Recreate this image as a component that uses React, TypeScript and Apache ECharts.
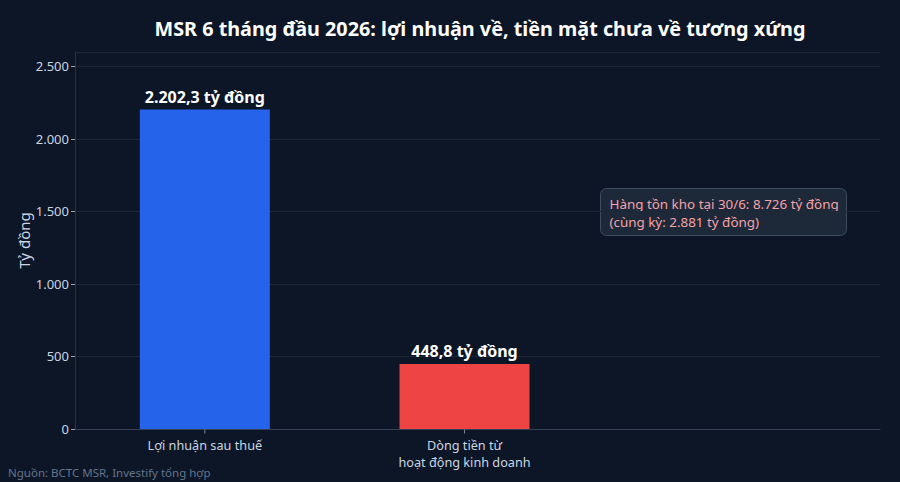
import React, { useEffect, useRef } from "react";
import * as echarts from "echarts";

const categories = ["Lợi nhuận sau thuế", "Dòng tiền từ\nhoạt động kinh doanh"];
const categoryPositions = [0, 1];
const values = [2202.3, 448.8];
const barColors = ["#2563eb", "#ef4444"];
const titleText = "MSR 6 tháng đầu 2026: lợi nhuận về, tiền mặt chưa về tương xứng";
const yAxisName = "Tỷ đồng";
const noteLines = ["Hàng tồn kho tại 30/6: 8.726 tỷ đồng", "(cùng kỳ: 2.881 tỷ đồng)"];
const sourceText = "Nguồn: BCTC MSR, Investify tổng hợp";

const FONT = "'Noto Sans', 'DejaVu Sans', sans-serif";

function fmtThousands(n: number): string {
  const s = Math.round(n).toString();
  return s.replace(/\B(?=(\d{3})+(?!\d))/g, ".");
}
function fmtValue(v: number): string {
  const fixed = v.toFixed(1);
  const [i, d] = fixed.split(".");
  return fmtThousands(Number(i)) + "," + d;
}

export default function App() {
  const ref = useRef<HTMLDivElement>(null);
  useEffect(() => {
    if (!ref.current) return;
    const chart = echarts.init(ref.current, undefined, { renderer: "svg" });
    const maxV = Math.max(...values);
    chart.setOption({
      animation: false,
      backgroundColor: "#0c1627",
      textStyle: { fontFamily: FONT },
      title: {
        text: titleText,
        left: 475,
        top: 13,
        textAlign: "center",
        textStyle: { color: "#ffffff", fontSize: 19.8, fontWeight: "bold", fontFamily: FONT },
      },
      grid: { left: 75, right: 20, top: 52, bottom: 53, containLabel: false },
      xAxis: {
        type: "value",
        min: -0.5,
        max: 2.6,
        splitLine: { show: false },
        axisLine: { show: true, onZero: false, lineStyle: { color: "#334155", width: 1 } },
        axisTick: { show: false },
        axisLabel: {
          customValues: categoryPositions,
          color: "#cbd5e1",
          fontSize: 12.7,
          margin: 7,
          lineHeight: 17,
          formatter: (v: number) => categories[Math.round(v)] ?? "",
        },
      },
      yAxis: {
        type: "value",
        min: 0,
        max: maxV * 1.18,
        interval: 500,
        name: yAxisName,
        nameLocation: "middle",
        nameGap: 44,
        nameMoveOverlap: false,
        nameTextStyle: { color: "#cbd5e1", fontSize: 15 },
        axisLine: { show: true, onZero: false, lineStyle: { color: "#263244" } },
        axisTick: { show: true, length: 4, lineStyle: { color: "#94a3b8" } },
        axisLabel: {
          color: "#cbd5e1",
          fontSize: 13,
          margin: 6,
          showMaxLabel: false,
          formatter: (v: number) => fmtThousands(v),
        },
        splitLine: { show: true, lineStyle: { color: "#1c2738", width: 1 } },
      },
      series: [
        {
          type: "bar",
          barWidth: 130,
          data: values.map((v, i) => ({
            value: [categoryPositions[i], v],
            itemStyle: { color: barColors[i] },
          })),
          label: {
            show: true,
            position: "top",
            distance: 5,
            color: "#ffffff",
            fontSize: 16,
            fontWeight: "bold",
            formatter: (p: any) => fmtValue(p.value[1]) + " tỷ đồng",
          },
        },
        {
          type: "scatter",
          symbol: "rect",
          symbolSize: [1, 4],
          symbolOffset: [0, 2.5],
          clip: false,
          silent: true,
          itemStyle: { color: "#94a3b8" },
          data: categoryPositions.map((x) => [x, 0]),
          z: 1,
        },
      ],
      graphic: [
        {
          type: "group",
          left: 600,
          top: 188,
          children: [
            {
              type: "rect",
              shape: { x: 0, y: 0, width: 246, height: 47, r: 6 },
              style: { fill: "#1d2838", stroke: "#3f4d61", lineWidth: 1 },
            },
            {
              type: "text",
              x: 9,
              y: 6,
              style: {
                text: noteLines.join("\n"),
                fill: "#f5a3a8",
                fontSize: 13.4,
                lineHeight: 18,
                fontFamily: FONT,
              },
            },
          ],
        },
        {
          type: "text",
          left: 8,
          top: 466,
          style: { text: sourceText, fill: "#64748b", fontSize: 11.5, fontFamily: FONT },
        },
      ],
    });
    return () => chart.dispose();
  }, []);
  return <div ref={ref} style={{ width: 900, height: 482, position: "fixed", left: 0, top: 0 }} />;
}
